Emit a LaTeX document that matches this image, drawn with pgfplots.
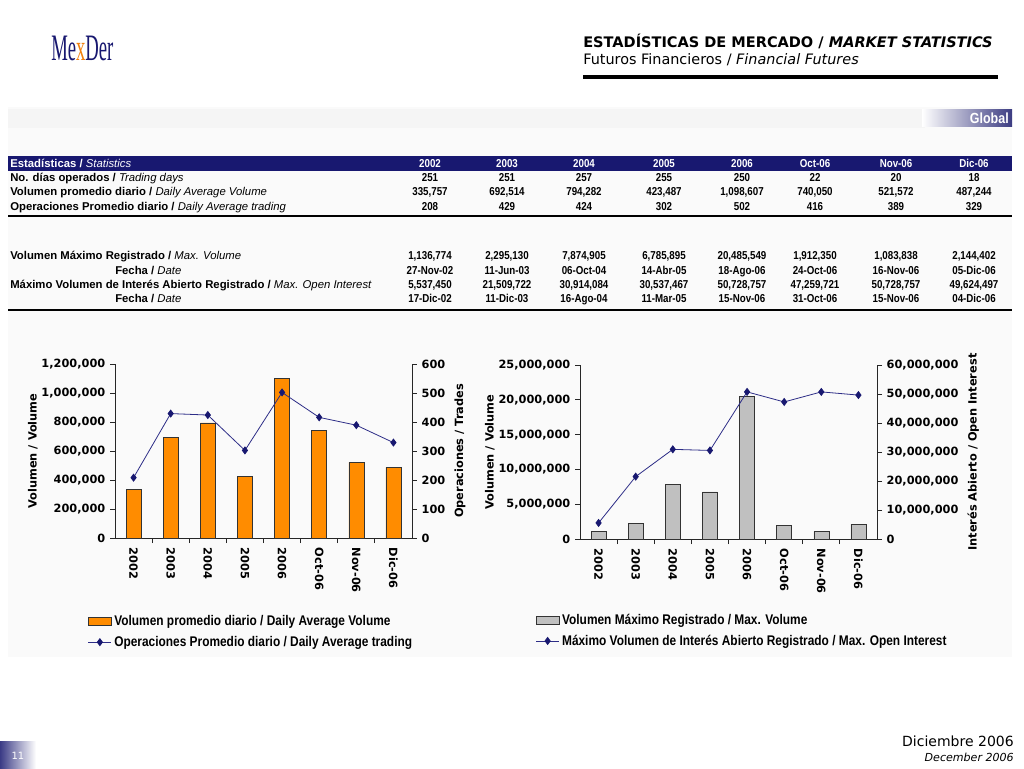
\documentclass[border=0pt]{standalone}
\usepackage{pgfplots}
\pgfplotsset{compat=1.18}
\usepackage{fontspec}
\setmainfont{DejaVu Sans}
\newfontfamily\narrow[FakeStretch=0.85]{Liberation Sans}
\newfontfamily\arial{Liberation Sans}
\newfontfamily\logofont[FakeStretch=0.5]{Liberation Serif}

\definecolor{navy}{RGB}{24,24,112}
\definecolor{barorange}{RGB}{255,140,0}
\definecolor{bargray}{RGB}{192,192,192}
\definecolor{linecol}{RGB}{45,45,135}
\definecolor{globalblue}{RGB}{60,60,130}

% one table row: y of the row's middle in px from top, eight values
\newcommand{\trow}[2]{%
  \foreach \v [count=\i from 0] in {#2} {
    \pgfmathsetmacro\cx{{430,507,584,664,742,815,896,974}[\i]}
    \node[anchor=base, inner sep=0pt, font=\narrow\bfseries\fontsize{8.6}{10}\selectfont]
      at (\cx,768-#1-4) {\v};
  }}
\newcommand{\tlabel}[3]{% x, y, text
  \node[anchor=base west, inner sep=0pt, font=\arial\bfseries\fontsize{8.5}{10}\selectfont]
    at (#1,768-#2-4) {#3};}

\pgfplotsset{
  chartbase/.style={
    scale only axis, width=222.75pt, height=130.5pt,
    xmin=-0.5, xmax=7.5,
    tick align=outside,
    major tick length=3.75pt, minor tick length=3.75pt,
    axis line style={line width=0.6pt, black!85},
    every tick/.style={line width=0.6pt, black!85},
    tick label style={font=\bfseries\fontsize{8.5}{10}\selectfont},
    label style={font=\bfseries\fontsize{8.5}{10}\selectfont},
    /pgf/number format/assume math mode=true,
    yticklabel style={/pgf/number format/fixed, /pgf/number format/1000 sep={,}},
    scaled y ticks=false,
  },
  chartbars/.style={
    chartbase,
    axis y line*=left, axis x line*=bottom,
    xtick={0,...,7},
    xticklabels={2002,2003,2004,2005,2006,Oct-06,Nov-06,Dic-06},
    xticklabel style={rotate=-90, anchor=west},
    major x tick style={draw=none},
    minor xtick={0.5,1.5,...,6.5},
    ylabel style={yshift=-4pt},
  },
  chartline/.style={
    chartbase,
    axis y line*=right, axis x line=none,
    legend cell align=left,
    legend style={draw=none, fill=none, anchor=north west,
      font=\narrow\bfseries\fontsize{10.5}{12}\selectfont,
      row sep=2.5pt},
  },
}

\begin{document}
\begin{tikzpicture}[x=0.75pt,y=0.75pt]
\path[use as bounding box] (0,0) rectangle (1024,768);
\fill[white] (0,0) rectangle (1024,768);
\fill[black!2] (8,768-657) rectangle (1012,768-107);
\fill[black!4] (8,768-128) rectangle (925,768-109);

% logo
\node[anchor=west, font=\logofont\fontsize{28}{28}\selectfont, text=navy, inner sep=0pt]
  at (51,768-48) {Me\textcolor{orange!80!brown}{x}Der};

% header
\node[anchor=base west, inner sep=0pt, font=\bfseries\fontsize{10.9}{12}\selectfont]
  at (583,768-48) {ESTADÍSTICAS DE MERCADO / \textit{MARKET STATISTICS}};
\node[anchor=base west, inner sep=0pt, font=\fontsize{10.8}{12}\selectfont]
  at (583,768-65) {Futuros Financieros / \textit{Financial Futures}};
\draw[line width=2.4pt] (583,768-77) -- (998,768-77);

% Global tab
\shade[left color=white, right color=globalblue] (922,768-127) rectangle (1012,768-110);
\node[anchor=base east, inner sep=0pt, text=white, font=\narrow\bfseries\fontsize{11}{12}\selectfont]
  at (1009,768-124) {Global};

% table
\fill[navy] (8,768-171) rectangle (1012,768-156);
\node[anchor=base west, inner sep=0pt, text=white, font=\arial\bfseries\fontsize{8.5}{10}\selectfont]
  at (10,768-168) {Estadísticas / \mdseries\itshape Statistics};
\trow{164}{\color{white}2002,\color{white}2003,\color{white}2004,\color{white}2005,\color{white}2006,\color{white}Oct-06,\color{white}Nov-06,\color{white}Dic-06}
\tlabel{10}{178}{No. días operados / {\mdseries\itshape Trading days}}
\tlabel{10}{192}{Volumen promedio diario / {\mdseries\itshape Daily Average Volume}}
\tlabel{10}{207}{Operaciones Promedio diario / {\mdseries\itshape Daily Average trading}}
\tlabel{10}{256}{Volumen Máximo Registrado / {\mdseries\itshape Max. Volume}}
\tlabel{10}{285}{Máximo Volumen de Interés Abierto Registrado / {\mdseries\itshape Max. Open Interest}}
\tlabel{115}{271}{Fecha / {\mdseries\itshape Date}}
\tlabel{115}{299}{Fecha / {\mdseries\itshape Date}}
\trow{178}{251,251,257,255,250,22,20,18}
\trow{192}{{335,757},{692,514},{794,282},{423,487},{1,098,607},{740,050},{521,572},{487,244}}
\trow{207}{208,429,424,302,502,416,389,329}
\draw[line width=1.5pt] (8,768-216) -- (1012,768-216);
\trow{256}{{1,136,774},{2,295,130},{7,874,905},{6,785,895},{20,485,549},{1,912,350},{1,083,838},{2,144,402}}
\trow{271}{27-Nov-02,11-Jun-03,06-Oct-04,14-Abr-05,18-Ago-06,24-Oct-06,16-Nov-06,05-Dic-06}
\trow{285}{{5,537,450},{21,509,722},{30,914,084},{30,537,467},{50,728,757},{47,259,721},{50,728,757},{49,624,497}}
\trow{299}{17-Dic-02,11-Dic-03,16-Ago-04,11-Mar-05,15-Nov-06,31-Oct-06,15-Nov-06,04-Dic-06}
\draw[line width=1.5pt] (8,768-310) -- (1012,768-310);

% left chart
\coordinate (LA) at (115,768-538);
\begin{axis}[chartbars, at={(LA)}, anchor=south west,
  ymin=0, ymax=1200000,
  ytick={0,200000,400000,600000,800000,1000000,1200000},
  ylabel={Volumen / Volume}]
\addplot[ybar, bar width=11.25pt, fill=barorange, draw=black!80] coordinates {
  (0,335757) (1,692514) (2,794282) (3,423487)
  (4,1098607) (5,740050) (6,521572) (7,487244)};
\end{axis}
\begin{axis}[chartline, at={(LA)}, anchor=south west,
  ymin=0, ymax=600, ytick={0,100,...,600},
  ylabel={Operaciones / Trades},
  legend style={at={(-0.105,-0.412)}}]
\addlegendimage{area legend, fill=barorange, draw=black!80}
\addlegendentry{Volumen promedio diario / Daily Average Volume}
\addplot[linecol, line width=0.6pt, mark=diamond*, mark size=2.6pt,
  mark options={fill=navy, draw=navy}] coordinates {
  (0,208) (1,429) (2,424) (3,302) (4,502) (5,416) (6,389) (7,329)};
\addlegendentry{Operaciones Promedio diario / Daily Average trading}
\end{axis}

% right chart
\coordinate (RA) at (580,768-539);
\begin{axis}[chartbars, at={(RA)}, anchor=south west,
  ymin=0, ymax=25000000,
  ytick={0,5000000,10000000,15000000,20000000,25000000},
  ylabel={Volumen / Volume}]
\addplot[ybar, bar width=11.25pt, fill=bargray, draw=black!80] coordinates {
  (0,1136774) (1,2295130) (2,7874905) (3,6785895)
  (4,20485549) (5,1912350) (6,1083838) (7,2144402)};
\end{axis}
\begin{axis}[chartline, at={(RA)}, anchor=south west,
  ymin=0, ymax=60000000,
  ytick={0,10000000,20000000,30000000,40000000,50000000,60000000},
  ylabel={Interés Abierto / Open Interest},
  legend style={at={(-0.163,-0.398)}}]
\addlegendimage{area legend, fill=bargray, draw=black!80}
\addlegendentry{Volumen Máximo Registrado / Max. Volume}
\addplot[linecol, line width=0.6pt, mark=diamond*, mark size=2.6pt,
  mark options={fill=navy, draw=navy}] coordinates {
  (0,5537450) (1,21509722) (2,30914084) (3,30537467)
  (4,50728757) (5,47259721) (6,50728757) (7,49624497)};
\addlegendentry{Máximo Volumen de Interés Abierto Registrado / Max. Open Interest}
\end{axis}

% footer
\shade[left color=navy!85, right color=white] (0,0) rectangle (36,27);
\node[text=white, font=\fontsize{7.5}{9}\selectfont] at (18,12) {11};
\node[anchor=base east, inner sep=0pt, font=\fontsize{10.5}{12}\selectfont]
  at (1014,768-746) {Diciembre 2006};
\node[anchor=base east, inner sep=0pt, font=\itshape\fontsize{8.3}{10}\selectfont]
  at (1014,768-761) {December 2006};
\end{tikzpicture}
\end{document}
